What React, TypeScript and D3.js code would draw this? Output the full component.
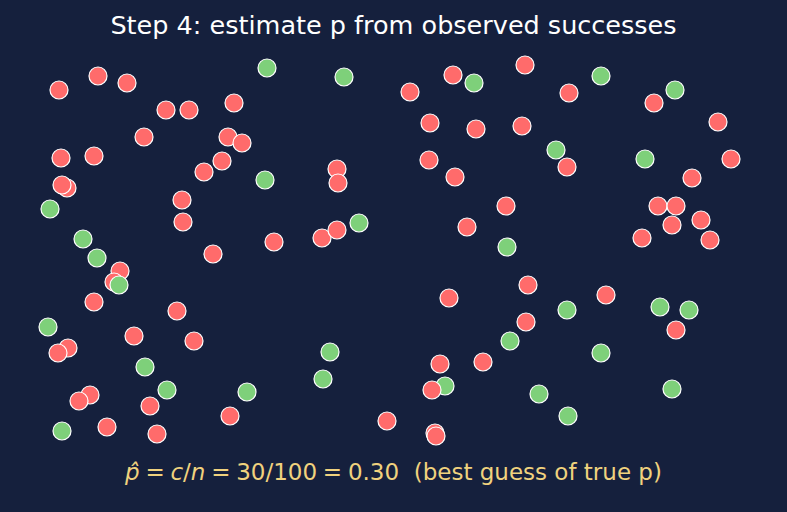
import { useEffect } from 'react';
import * as d3 from 'd3';

const WIDTH = 787;
const HEIGHT = 512;

// trial positions inside the field (x to the right, y upward)
const failX = [
  29, 68, 97, 136, 159, 204, 114, 198, 212, 192, 174, 31, 64, 37, 32, 152, 153, 183,
  380, 307, 308, 292, 307, 244, 495, 423, 539, 400, 446, 492, 537, 399, 425, 476, 437,
  624, 688, 701, 662, 628, 646, 642, 671, 612, 680, 90, 84, 64, 147, 104, 164, 38, 28,
  60, 49, 120, 200, 77, 127, 357, 498, 419, 576, 496, 410, 453, 405, 406, 646,
];
const failY = [
  355, 369, 362, 335, 335, 342, 308, 308, 302, 284, 273, 287, 289, 257, 260, 245, 223, 191,
  353, 276, 262, 207, 215, 203, 380, 370, 352, 322, 316, 319, 278, 285, 268, 239, 218,
  342, 323, 286, 267, 239, 239, 220, 225, 207, 205, 174, 163, 143, 134, 109, 104, 97, 92,
  50, 44, 39, 29, 18, 11, 24, 160, 147, 150, 123, 81, 83, 12, 9, 115,
];
const successX = [
  20, 53, 67, 237, 314, 235, 329, 444, 571, 526, 477, 645, 615, 89, 18, 115, 137, 32,
  300, 293, 217, 537, 480, 571, 415, 509, 538, 630, 659, 642,
];
const successY = [
  236, 206, 187, 377, 368, 265, 222, 362, 369, 295, 198, 355, 286, 160, 118, 78, 55, 14,
  93, 66, 53, 135, 104, 92, 59, 51, 29, 138, 135, 56,
];
// one failure drawn last, over its neighbour
const lateFailX = [402];
const lateFailY = [55];

const n = failX.length + successX.length + lateFailX.length;
const c = successX.length;
const pHat = c / n;

const BG = '#15203d';
const RED = '#ff6b6b';
const GREEN = '#7ed07a';
const GOLD = '#f0d27e';

type Trial = { x: number; y: number; ok: boolean };

const trials: Trial[] = [
  ...failX.map((x, i) => ({ x, y: failY[i], ok: false })),
  ...successX.map((x, i) => ({ x, y: successY[i], ok: true })),
  ...lateFailX.map((x, i) => ({ x, y: lateFailY[i], ok: false })),
];

const sp = '\u2005';

export default function App() {
  useEffect(() => {
    document.body.style.margin = '0';
    document.body.style.background = BG;
  }, []);

  const x = d3.scaleLinear().domain([0, 720]).range([30, 750]);
  const y = d3.scaleLinear().domain([0, 390]).range([445, 55]);

  return (
    <svg width={WIDTH} height={HEIGHT} style={{ display: 'block' }} fontFamily="DejaVu Sans">
      <rect width={WIDTH} height={HEIGHT} fill={BG} />
      <text x={WIDTH / 2} y={34} textAnchor="middle" fill="#ffffff" fontSize={25.5}>
        Step 4: estimate p from observed successes
      </text>
      <g>
        {trials.map((d, i) => (
          <circle
            key={i}
            cx={x(d.x)}
            cy={y(d.y)}
            r={9}
            fill={d.ok ? GREEN : RED}
            stroke="#ffffff"
            strokeWidth={1.2}
          />
        ))}
      </g>
      <text x={WIDTH / 2} y={480} textAnchor="middle" fill={GOLD} fontSize={23}>
        <tspan fontStyle="italic">{'p\u0302'}</tspan>
        <tspan>{`${sp}=${sp}`}</tspan>
        <tspan fontStyle="italic">c</tspan>
        <tspan>/</tspan>
        <tspan fontStyle="italic">n</tspan>
        <tspan>{`${sp}=${sp}${c}/${n}${sp}=${sp}${pHat.toFixed(2)}`}</tspan>
        <tspan xmlSpace="preserve">{'  (best guess of true p)'}</tspan>
      </text>
    </svg>
  );
}
